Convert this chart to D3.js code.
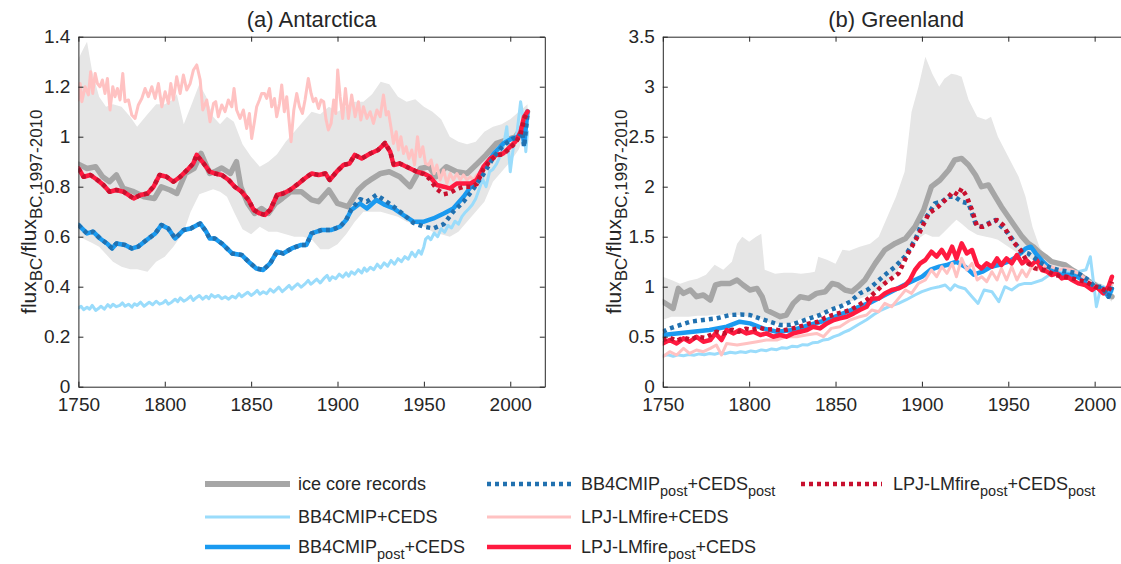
<!DOCTYPE html>
<html><head><meta charset="utf-8">
<script src="https://cdn.jsdelivr.net/npm/d3@7"></script>
<style>
body{margin:0;background:#fff;}
svg{display:block;font-family:"Liberation Sans",Arial,Helvetica,sans-serif;}
</style></head>
<body><svg id="c" width="1121" height="564"></svg>
<script>
// ---------------- DATA ----------------
const xTicks = [1750, 1800, 1850, 1900, 1950, 2000];
const yTicksA = [0, 0.2, 0.4, 0.6, 0.8, 1, 1.2, 1.4];
const yTicksB = [0, 0.5, 1, 1.5, 2, 2.5, 3, 3.5];
const titles = ["(a) Antarctica", "(b) Greenland"];

// Antarctica: ice core spread (shading)
const antBandYears = [1750,1752,1755,1758,1762,1766,1770,1775,1780,1784,1790,1795,1800,1805,1807,1811,1815,1820,1824,1828,1832,1836,1840,1845,1850,1855,1860,1865,1870,1875,1880,1885,1890,1895,1900,1905,1910,1915,1920,1925,1930,1935,1940,1945,1950,1955,1960,1965,1970,1975,1980,1985,1990,1995,2000,2005,2010];
const antBandHigh  = [1.31,1.34,1.38,1.26,1.16,1.12,1.13,1.12,1.08,1.04,1.09,1.13,1.13,1.15,1.17,1.05,1.12,1.21,1.16,1.08,1.05,1.08,1.06,0.97,0.92,0.88,0.90,0.93,0.98,1.02,1.06,1.10,1.09,1.12,1.10,1.12,1.14,1.14,1.17,1.22,1.21,1.16,1.14,1.15,1.12,1.10,1.07,1.00,0.98,0.97,0.98,1.02,1.04,1.05,1.07,1.10,1.13];
const antBandLow   = [0.60,0.595,0.585,0.575,0.56,0.53,0.50,0.48,0.47,0.47,0.46,0.50,0.52,0.56,0.58,0.62,0.70,0.77,0.78,0.79,0.78,0.76,0.70,0.63,0.61,0.64,0.62,0.62,0.61,0.60,0.60,0.59,0.55,0.55,0.57,0.61,0.66,0.70,0.70,0.70,0.69,0.68,0.66,0.65,0.64,0.62,0.61,0.60,0.62,0.66,0.70,0.74,0.82,0.86,0.90,0.95,1.05];

const antIce = [[1750,0.89],[1755,0.873],[1760,0.88],[1764,0.84],[1768,0.82],[1772,0.847],[1776,0.793],[1782,0.78],[1788,0.76],[1794,0.753],[1798,0.80],[1803,0.787],[1807,0.773],[1812,0.853],[1817,0.873],[1821,0.933],[1826,0.853],[1829,0.86],[1833,0.875],[1838,0.853],[1841.5,0.90],[1844,0.80],[1848,0.733],[1852,0.693],[1856,0.713],[1860,0.693],[1864,0.733],[1868,0.753],[1873,0.78],[1879,0.78],[1885,0.747],[1889,0.74],[1895,0.787],[1900,0.733],[1906,0.72],[1912,0.787],[1916,0.813],[1919,0.827],[1925,0.853],[1930,0.86],[1936,0.84],[1942,0.80],[1948,0.873],[1953,0.88],[1957,0.84],[1963,0.88],[1969,0.86],[1975,0.853],[1981,0.893],[1986,0.927],[1992,0.973],[1998,0.987],[2003,1.0],[2007,1.04],[2010,1.1]];

const antBB4 = [[1750,0.315],[1751.5,0.322],[1753,0.308],[1755,0.318],[1756.5,0.31],[1758,0.325],[1760,0.305],[1762,0.315],[1763,0.322],[1765,0.31],[1767,0.328],[1768.5,0.318],[1770,0.33],[1772,0.32],[1774,0.325],[1775.5,0.335],[1777,0.322],[1779,0.33],[1781,0.318],[1782.5,0.332],[1784,0.325],[1786,0.338],[1788,0.322],[1789.5,0.33],[1791,0.338],[1793,0.328],[1795,0.342],[1797,0.33],[1799,0.335],[1800.5,0.345],[1802,0.33],[1804,0.338],[1806,0.35],[1807.5,0.34],[1809,0.355],[1811,0.342],[1813,0.35],[1815,0.362],[1816.5,0.345],[1818,0.355],[1820,0.365],[1822,0.35],[1824,0.362],[1825.5,0.352],[1827,0.368],[1829,0.358],[1831,0.365],[1833,0.352],[1835,0.36],[1837,0.35],[1839,0.362],[1841,0.355],[1843,0.372],[1844.5,0.36],[1846,0.368],[1848,0.378],[1850,0.365],[1852,0.375],[1853.5,0.385],[1855,0.37],[1857,0.38],[1859,0.372],[1861,0.39],[1863,0.378],[1864.5,0.388],[1866,0.398],[1868,0.38],[1870,0.392],[1872,0.405],[1873.5,0.39],[1875,0.4],[1877,0.412],[1879,0.398],[1881,0.41],[1883,0.425],[1884.5,0.41],[1886,0.418],[1888,0.43],[1890,0.415],[1892,0.432],[1894,0.445],[1895.5,0.425],[1897,0.44],[1899,0.432],[1901,0.45],[1903,0.438],[1905,0.455],[1906.5,0.442],[1908,0.46],[1910,0.45],[1912,0.468],[1914,0.455],[1915.5,0.475],[1917,0.462],[1919,0.478],[1921,0.468],[1923,0.49],[1925,0.475],[1927,0.495],[1929,0.482],[1931,0.505],[1933,0.49],[1935,0.512],[1937,0.5],[1939,0.52],[1941,0.51],[1943,0.538],[1945,0.52],[1947,0.545],[1948.5,0.53],[1950,0.56],[1951,0.59],[1952.5,0.6],[1954,0.588],[1956,0.615],[1958,0.6],[1960,0.632],[1962,0.618],[1964,0.645],[1966,0.635],[1968,0.662],[1970,0.65],[1972,0.68],[1974,0.698],[1976,0.712],[1978,0.728],[1980,0.752],[1982,0.79],[1984,0.83],[1986,0.8],[1988,0.86],[1990,0.87],[1992,0.89],[1994,0.92],[1996,0.96],[1998,1.04],[2000,0.86],[2002,0.97],[2004,1.02],[2006,1.14],[2008,1.05],[2009,0.94],[2010,1.02]];

const antLPJ = [[1750,1.147],[1751,1.213],[1752,1.14],[1753.9,1.2],[1755.8,1.167],[1757.1,1.26],[1758.3,1.173],[1759.7,1.253],[1761,1.213],[1762.5,1.2],[1763.9,1.227],[1765.4,1.173],[1766.8,1.233],[1768.3,1.107],[1769.9,1.2],[1771.2,1.16],[1772.6,1.193],[1774.1,1.147],[1775.7,1.253],[1777,1.14],[1779,1.147],[1780.9,1.087],[1782.8,1.073],[1784.7,1.127],[1786.7,1.153],[1788.6,1.193],[1790.5,1.16],[1792.5,1.2],[1794.4,1.153],[1796.3,1.213],[1798.3,1.12],[1800.2,1.18],[1802.1,1.133],[1803.5,1.213],[1805,1.147],[1806.9,1.24],[1808.9,1.173],[1810.8,1.247],[1812.7,1.187],[1814.7,1.213],[1816.6,1.267],[1818.5,1.287],[1820.5,1.227],[1822,1.107],[1824.3,1.147],[1826.2,1.06],[1828.2,1.133],[1829.5,1.14],[1831,1.08],[1833,1.127],[1834.9,1.10],[1836.8,1.147],[1838.8,1.12],[1840.1,1.193],[1841.6,1.107],[1843.6,1.073],[1845.5,1.107],[1847.4,1.033],[1849,1.093],[1850.3,0.993],[1851.9,1.06],[1853.2,1.12],[1854.8,1.147],[1856.1,1.173],[1857.7,1.173],[1859,1.153],[1860.6,1.193],[1861.9,1.12],[1863.5,1.153],[1864.8,1.08],[1866.4,1.133],[1867.7,1.207],[1869.2,1.10],[1870.6,1.16],[1872,1.06],[1873.1,0.98],[1874.7,1.107],[1876.4,1.173],[1878,1.12],[1879.7,1.093],[1881.2,1.147],[1883.1,1.233],[1884.7,1.173],[1886,1.14],[1887.4,1.153],[1889,1.113],[1890.5,1.147],[1892,1.14],[1893.4,1.067],[1894.7,1.027],[1896.3,1.053],[1897.8,1.147],[1899,1.093],[1900.1,1.267],[1901.5,1.16],[1903,1.073],[1904.6,1.193],[1906.3,1.073],[1908.2,1.167],[1910.2,1.08],[1912.1,1.14],[1913.5,1.067],[1915,1.12],[1917,1.073],[1918.9,1.10],[1920.8,1.053],[1922.8,1.107],[1924.7,1.08],[1926.6,1.167],[1928.2,1.087],[1929.5,1.10],[1930.9,1.04],[1932.4,0.973],[1934,1.02],[1935.3,0.947],[1936.7,1.0],[1938.2,0.933],[1939.7,0.96],[1941.3,0.913],[1943,0.947],[1944.6,0.887],[1946.3,1.0],[1947.8,0.92],[1949.4,0.96],[1950.9,0.893],[1952.7,0.887],[1954.2,0.907],[1955.9,0.853],[1957.5,0.887],[1959.4,0.827],[1961.4,0.867],[1963.3,0.813],[1965.2,0.853],[1967.1,0.827],[1969.1,0.853],[1971,0.827],[1972.9,0.847],[1974.9,0.827],[1976.8,0.84],[1978.7,0.827],[1980.7,0.847],[1982.6,0.853],[1985,0.87],[1988,0.91],[1992,0.925],[1996,0.935],[2000,0.96],[2003,0.98],[2006,1.02],[2008,1.07],[2010,1.1]];

const antBB4post = [[1750,0.647],[1755,0.613],[1758.5,0.62],[1762.5,0.593],[1766.5,0.573],[1769.5,0.553],[1772,0.573],[1777,0.567],[1781,0.553],[1784.5,0.56],[1789.5,0.587],[1794.5,0.613],[1798,0.647],[1802,0.633],[1806,0.593],[1811,0.627],[1815,0.633],[1820.5,0.653],[1824,0.62],[1826,0.593],[1829,0.593],[1833,0.573],[1839,0.533],[1844.5,0.527],[1848.5,0.50],[1853,0.473],[1857,0.467],[1861,0.493],[1865,0.54],[1868.5,0.533],[1873.5,0.553],[1879,0.567],[1882,0.567],[1885,0.613],[1891,0.627],[1896.5,0.627],[1901.5,0.64],[1905,0.667],[1908,0.707],[1913,0.733],[1917,0.713],[1922.5,0.747],[1927.5,0.727],[1932.5,0.713],[1938,0.687],[1944,0.66],[1950,0.66],[1955.5,0.673],[1961.5,0.693],[1967,0.713],[1973,0.76],[1978.5,0.813],[1984.5,0.873],[1990.5,0.933],[1996,0.973],[2001,0.993],[2005,1.0],[2007,1.03],[2008,0.97],[2010,1.1]];

const antBB4postpost = [[1750,0.647],[1755,0.613],[1758.5,0.62],[1762.5,0.593],[1766.5,0.573],[1769.5,0.553],[1772,0.573],[1777,0.567],[1781,0.553],[1784.5,0.56],[1789.5,0.587],[1794.5,0.613],[1798,0.647],[1802,0.633],[1806,0.593],[1811,0.627],[1815,0.633],[1820.5,0.653],[1824,0.62],[1826,0.593],[1829,0.593],[1833,0.573],[1839,0.533],[1844.5,0.527],[1848.5,0.50],[1853,0.473],[1857,0.467],[1861,0.493],[1865,0.54],[1868.5,0.533],[1873.5,0.553],[1879,0.567],[1882,0.567],[1885,0.613],[1891,0.627],[1896.5,0.627],[1901.5,0.64],[1905,0.667],[1908,0.71],[1913,0.75],[1917,0.74],[1922.5,0.767],[1927.5,0.745],[1932.5,0.72],[1938,0.69],[1944,0.655],[1950,0.64],[1955.5,0.633],[1961.5,0.65],[1967,0.70],[1973,0.74],[1978.5,0.79],[1984.5,0.85],[1990.5,0.92],[1996,0.965],[2001,0.99],[2005,1.0],[2007,1.02],[2008,0.96],[2010,1.09]];

const antLPJpost = [[1750,0.873],[1753,0.84],[1757,0.847],[1761,0.827],[1764.5,0.807],[1768,0.78],[1772,0.787],[1776,0.78],[1782,0.753],[1786,0.767],[1790,0.773],[1793.5,0.80],[1797,0.847],[1801,0.84],[1805,0.82],[1809,0.84],[1813,0.867],[1816.5,0.893],[1818.5,0.927],[1822.5,0.893],[1826,0.86],[1829,0.853],[1833,0.847],[1837,0.827],[1840.5,0.80],[1844.5,0.78],[1848.5,0.747],[1851.5,0.707],[1855,0.693],[1858,0.687],[1861,0.707],[1865,0.767],[1868.5,0.773],[1872.5,0.787],[1877.5,0.813],[1881,0.833],[1885,0.853],[1889,0.847],[1893,0.853],[1895.5,0.827],[1899.5,0.86],[1903.5,0.887],[1907,0.893],[1910,0.927],[1914,0.913],[1919,0.933],[1923.5,0.947],[1927.5,0.973],[1930.5,0.94],[1932.5,0.887],[1936,0.893],[1942,0.873],[1946,0.86],[1950,0.853],[1953.5,0.84],[1957.5,0.807],[1961.5,0.80],[1965,0.793],[1969,0.813],[1973,0.813],[1977,0.813],[1980.5,0.827],[1984.5,0.88],[1988.5,0.913],[1992,0.927],[1996,0.933],[2000,0.96],[2003,0.98],[2006,1.02],[2008,1.08],[2010,1.10]];

const antLPJpostpost = [[1750,0.873],[1753,0.84],[1757,0.847],[1761,0.827],[1764.5,0.807],[1768,0.78],[1772,0.787],[1776,0.78],[1782,0.753],[1786,0.767],[1790,0.773],[1793.5,0.80],[1797,0.847],[1801,0.84],[1805,0.82],[1809,0.84],[1813,0.867],[1816.5,0.893],[1818.5,0.927],[1822.5,0.893],[1826,0.86],[1829,0.853],[1833,0.847],[1837,0.827],[1840.5,0.80],[1844.5,0.78],[1848.5,0.747],[1851.5,0.707],[1855,0.693],[1858,0.687],[1861,0.707],[1865,0.767],[1868.5,0.773],[1872.5,0.787],[1877.5,0.813],[1881,0.833],[1885,0.853],[1889,0.847],[1893,0.853],[1895.5,0.827],[1899.5,0.86],[1903.5,0.887],[1907,0.893],[1910,0.927],[1914,0.913],[1919,0.933],[1923.5,0.947],[1927.5,0.975],[1930.5,0.94],[1932.5,0.89],[1936,0.893],[1942,0.873],[1946,0.86],[1950,0.85],[1953.5,0.83],[1957.5,0.79],[1961.5,0.77],[1965,0.775],[1969,0.79],[1973,0.80],[1977,0.80],[1980.5,0.81],[1984.5,0.87],[1988.5,0.905],[1992,0.925],[1996,0.93],[2000,0.955],[2003,0.975],[2006,1.01],[2008,1.07],[2010,1.10]];

// Greenland
const grlBandYears = [1750,1755,1760,1765,1770,1775,1780,1785,1790,1793,1796,1800,1804,1807,1809,1812,1815,1820,1825,1830,1835,1838,1840,1845,1850,1854,1858,1864,1870,1875,1880,1885,1890,1894,1898,1902,1906,1910,1913,1917,1920,1923,1927,1932,1937,1940,1944,1950,1956,1960,1964,1968,1972,1977,1983,1990,1998,2005,2010];
const grlBandHigh  = [1.10,1.067,1.03,1.06,1.08,1.12,1.22,1.17,1.25,1.43,1.50,1.45,1.50,1.53,1.17,1.15,1.13,1.14,1.14,1.13,1.14,1.15,1.30,1.27,1.23,1.37,1.36,1.40,1.43,1.50,1.70,1.90,2.15,2.75,3.00,3.30,3.13,3.00,3.08,3.13,3.12,3.10,2.87,2.70,2.67,2.70,2.50,2.30,2.10,1.90,1.60,1.40,1.30,1.23,1.18,1.13,1.07,1.02,0.98];
const grlBandLow   = [0.67,0.70,0.70,0.70,0.71,0.71,0.72,0.72,0.72,0.72,0.71,0.70,0.69,0.68,0.66,0.64,0.63,0.63,0.64,0.68,0.70,0.71,0.72,0.76,0.80,0.82,0.85,0.88,0.92,0.97,1.03,1.13,1.30,1.40,1.48,1.53,1.50,1.50,1.55,1.62,1.67,1.63,1.57,1.52,1.50,1.49,1.47,1.40,1.33,1.30,1.27,1.23,1.21,1.20,1.17,1.12,1.04,0.92,0.85];

const grlIce = [[1750,0.85],[1753,0.817],[1756,0.783],[1759,0.983],[1762,0.933],[1766,0.967],[1769.5,0.90],[1773.5,0.917],[1777.5,0.867],[1780.5,1.017],[1784,1.033],[1789,1.033],[1793,1.067],[1796.5,1.017],[1800.5,0.967],[1804.5,0.983],[1807.5,0.90],[1810,0.767],[1814,0.733],[1818,0.70],[1821.5,0.717],[1825.5,0.833],[1829.5,0.90],[1834.5,0.883],[1839,0.933],[1844,0.95],[1848,1.033],[1851.5,1.017],[1855.5,0.967],[1859.5,0.95],[1863,1.0],[1867,1.067],[1873,1.233],[1878.5,1.367],[1884.5,1.433],[1890.5,1.483],[1896,1.60],[1901,1.767],[1905.5,2.0],[1910.5,2.067],[1915.5,2.167],[1919,2.267],[1923,2.283],[1927,2.217],[1931,2.117],[1934.5,2.0],[1938.5,2.017],[1942.5,1.90],[1946,1.80],[1950,1.70],[1954,1.60],[1958,1.50],[1961.5,1.433],[1964.5,1.40],[1967.5,1.35],[1971.5,1.30],[1975,1.25],[1979,1.233],[1983,1.217],[1987,1.167],[1990.5,1.133],[1995.5,1.067],[2000,1.02],[2005,0.95],[2010,0.9]];

const grlBB4 = [[1750,0.31],[1753,0.32],[1756,0.305],[1759,0.318],[1762,0.31],[1765,0.322],[1768,0.315],[1771,0.328],[1774,0.32],[1777,0.332],[1780,0.325],[1783,0.338],[1786,0.33],[1789,0.345],[1792,0.336],[1795,0.35],[1798,0.342],[1801,0.358],[1804,0.35],[1807,0.368],[1810,0.36],[1813,0.378],[1816,0.37],[1819,0.39],[1822,0.385],[1825,0.405],[1828,0.4],[1831,0.42],[1834,0.418],[1837,0.44],[1840,0.445],[1843,0.468],[1846,0.475],[1849,0.50],[1852,0.518],[1855,0.545],[1858,0.567],[1863,0.62],[1868,0.67],[1872,0.72],[1876.5,0.767],[1881,0.80],[1886.5,0.833],[1891,0.87],[1896,0.917],[1900,0.95],[1905.5,0.983],[1910,1.0],[1913.5,1.017],[1916.5,0.967],[1919,1.02],[1921,1.0],[1925,0.98],[1929,0.90],[1932.5,0.833],[1936,0.967],[1940.5,0.95],[1944.5,0.85],[1948,1.0],[1952,0.967],[1956,1.017],[1959.5,1.033],[1963.5,1.033],[1969.5,1.067],[1975,1.133],[1983,1.15],[1990.5,1.15],[1995,1.17],[1997.5,1.30],[2000,0.95],[2001,0.80],[2003,0.95],[2005,1.0],[2008,0.9],[2010,0.95]];

const grlLPJ = [[1750,0.30],[1754,0.35],[1758,0.317],[1762,0.383],[1765.5,0.333],[1769.5,0.367],[1773.5,0.35],[1777.5,0.383],[1781,0.417],[1784,0.317],[1787,0.433],[1793,0.417],[1798.5,0.433],[1804.5,0.45],[1810,0.467],[1816,0.467],[1821.5,0.50],[1827.5,0.50],[1833,0.517],[1839,0.533],[1843,0.50],[1847.5,0.583],[1852.5,0.60],[1858.5,0.667],[1864,0.70],[1868,0.717],[1871,0.767],[1875,0.75],[1878.5,0.833],[1882.5,0.80],[1886.5,0.883],[1890.5,0.967],[1894,0.933],[1898,1.033],[1902,1.067],[1905.5,1.167],[1908.5,1.10],[1911.5,1.20],[1914.5,1.133],[1917.5,1.233],[1920,1.10],[1923,1.283],[1926,1.167],[1929,1.233],[1932,1.067],[1934.5,1.10],[1937.5,1.05],[1940.5,1.15],[1943.5,1.067],[1946,1.183],[1949,1.067],[1952,1.20],[1955,1.067],[1958,1.167],[1960.5,1.10],[1963.5,1.20],[1966.5,1.167],[1969.5,1.233],[1972.5,1.183],[1975,1.20],[1979,1.167],[1983,1.183],[1987,1.167],[1990.5,1.133],[1994.5,1.083],[1998.5,1.033],[2002,0.98],[2006,0.95],[2010,1.02]];

const grlBB4post = [[1750,0.517],[1758,0.533],[1767.5,0.55],[1777,0.567],[1787,0.60],[1794.5,0.65],[1800.5,0.633],[1808,0.583],[1816,0.55],[1825.5,0.567],[1835,0.617],[1845,0.667],[1854.5,0.733],[1864,0.80],[1870,0.84],[1880,0.93],[1890,1.02],[1900,1.10],[1905,1.17],[1910,1.20],[1915,1.22],[1920,1.25],[1925,1.20],[1930,1.12],[1935,1.15],[1940,1.20],[1945,1.22],[1950,1.25],[1955,1.30],[1960,1.38],[1963,1.40],[1966,1.33],[1970,1.25],[1975,1.17],[1980,1.12],[1985,1.12],[1990,1.10],[1995,1.05],[2000,1.0],[2005,0.98],[2008,0.9],[2010,0.98]];

const grlBB4postpost = [[1750,0.55],[1754,0.583],[1760,0.617],[1766,0.65],[1773.5,0.667],[1781,0.683],[1789,0.717],[1795,0.723],[1800.5,0.717],[1806,0.683],[1812,0.65],[1818,0.617],[1824,0.617],[1829.5,0.65],[1835,0.683],[1841,0.717],[1847,0.767],[1852.5,0.80],[1858.5,0.85],[1864,0.933],[1869,0.975],[1873,1.033],[1878.5,1.117],[1884.5,1.20],[1890,1.30],[1896,1.467],[1900,1.633],[1904,1.733],[1907.5,1.833],[1911.5,1.85],[1915.5,1.90],[1919,1.90],[1923,1.85],[1927,1.833],[1931,1.633],[1934.5,1.60],[1938.5,1.633],[1942.5,1.667],[1946,1.60],[1950,1.533],[1954,1.433],[1958,1.35],[1961.5,1.333],[1965.5,1.283],[1969.5,1.233],[1973,1.20],[1979,1.167],[1985,1.15],[1990.5,1.133],[1996.5,1.067],[2000,1.0],[2004,1.0],[2008,0.9],[2010,1.0]];

const grlLPJpost = [[1750,0.433],[1754,0.467],[1758,0.433],[1762,0.483],[1765.5,0.45],[1769.5,0.50],[1773.5,0.45],[1777.5,0.467],[1780.5,0.533],[1784,0.467],[1787,0.567],[1791,0.533],[1794.5,0.567],[1798.5,0.533],[1802.5,0.55],[1806.5,0.517],[1810,0.533],[1814,0.50],[1818,0.517],[1821.5,0.50],[1825.5,0.533],[1829.5,0.55],[1833.5,0.567],[1837,0.60],[1841,0.583],[1845,0.633],[1849,0.667],[1852.5,0.683],[1856.5,0.70],[1860.5,0.733],[1864,0.767],[1868,0.80],[1871,0.883],[1875,0.883],[1878.5,0.933],[1882.5,0.967],[1886.5,0.983],[1890.5,1.017],[1893,1.067],[1896,1.167],[1899,1.233],[1902,1.267],[1905.5,1.35],[1908.5,1.30],[1911.5,1.367],[1914.5,1.283],[1917.5,1.40],[1920,1.283],[1923,1.433],[1926,1.333],[1929,1.367],[1932,1.217],[1934.5,1.183],[1937.5,1.233],[1940.5,1.20],[1943.5,1.283],[1946,1.217],[1949,1.283],[1952,1.233],[1955,1.317],[1958,1.233],[1960.5,1.267],[1963.5,1.217],[1966.5,1.267],[1969.5,1.167],[1972.5,1.15],[1975,1.117],[1978,1.133],[1981,1.083],[1984,1.10],[1987,1.067],[1990.5,1.033],[1994.5,1.017],[1998.5,0.967],[2001,1.0],[2005,0.933],[2008,1.0],[2010,1.10]];

const grlLPJpostpost = [[1750,0.467],[1754,0.49],[1758,0.46],[1762,0.49],[1766,0.47],[1770,0.50],[1774,0.49],[1778,0.52],[1781,0.55],[1785,0.53],[1790,0.57],[1794,0.55],[1798,0.58],[1802,0.57],[1806,0.59],[1810,0.57],[1814,0.575],[1819,0.56],[1823,0.575],[1827,0.59],[1831,0.61],[1835,0.633],[1840,0.65],[1844,0.69],[1848.5,0.717],[1853,0.74],[1858.5,0.767],[1863,0.81],[1868,0.867],[1878.5,1.033],[1886.5,1.133],[1892,1.333],[1898,1.517],[1904,1.733],[1909.5,1.80],[1915.5,1.90],[1918,1.95],[1921,1.917],[1923,1.983],[1926,1.90],[1929,1.767],[1932,1.60],[1935.5,1.60],[1939.5,1.633],[1943.5,1.667],[1947,1.617],[1952,1.467],[1957,1.367],[1961.5,1.233],[1965.5,1.183],[1971.5,1.167],[1977,1.117],[1983,1.10],[1990.5,1.067],[1995,1.05],[2000,1.0],[2004,0.98],[2008,0.95],[2010,1.05]];

// ---------------- STYLE / LAYOUT ----------------
const seriesStyle = {
  ice:      {color:"#a6a6a6", width:5.5, dash:null},
  bb4:      {color:"#9adcfb", width:3,   dash:null},
  lpj:      {color:"#ffc2c2", width:3,   dash:null},
  bb4post:  {color:"#1a9af0", width:4.5, dash:null},
  lpjpost:  {color:"#ff1a40", width:4.5, dash:null},
  bb4pp:    {color:"#2171b0", width:4.5, dash:"4,4"},
  lpjpp:    {color:"#c8102e", width:4.5, dash:"4,4"}
};
const textColor = "#262626";
const svg = d3.select("#c");

const panels = [
  {left:78.4, right:544.8, top:36.7, bottom:386.7, yMax:1.4, yTicks:yTicksA, title:titles[0],
   band:[antBandYears, antBandLow, antBandHigh],
   lines:[["ice",antIce],["bb4",antBB4],["bb4post",antBB4post],["lpj",antLPJ],["lpjpost",antLPJpost],["bb4pp",antBB4postpost],["lpjpp",antLPJpostpost]]},
  {left:662.8, right:1129.2, top:36.7, bottom:386.7, yMax:3.5, yTicks:yTicksB, title:titles[1],
   band:[grlBandYears, grlBandLow, grlBandHigh],
   lines:[["ice",grlIce],["bb4",grlBB4],["bb4post",grlBB4post],["lpj",grlLPJ],["lpjpost",grlLPJpost],["bb4pp",grlBB4postpost],["lpjpp",grlLPJpostpost]]}
];

panels.forEach((p, i) => {
  const x = d3.scaleLinear().domain([1750, 2020]).range([p.left, p.right]);
  const y = d3.scaleLinear().domain([0, p.yMax]).range([p.bottom, p.top]);
  const g = svg.append("g");
  const clipId = "clip" + i;
  svg.append("clipPath").attr("id", clipId).append("rect")
    .attr("x", p.left).attr("y", p.top).attr("width", p.right - p.left).attr("height", p.bottom - p.top);
  const plot = g.append("g").attr("clip-path", `url(#${clipId})`);

  const [by, bl, bh] = p.band;
  const bandData = by.map((yr, k) => [yr, bl[k], bh[k]]);
  plot.append("path").datum(bandData)
    .attr("fill", "#e6e6e6").attr("stroke", "none")
    .attr("d", d3.area().x(d => x(d[0])).y0(d => y(d[1])).y1(d => y(d[2])));

  const line = d3.line().x(d => x(d[0])).y(d => y(d[1]));
  p.lines.forEach(([key, data]) => {
    const s = seriesStyle[key];
    const path = plot.append("path").datum(data)
      .attr("fill", "none").attr("stroke", s.color).attr("stroke-width", s.width)
      .attr("stroke-linejoin", "round").attr("d", line);
    if (s.dash) path.attr("stroke-dasharray", s.dash).attr("stroke-linecap", "butt");
    else path.attr("stroke-linecap", "round");
  });

  const styleAxis = sel => {
    sel.selectAll("path.domain").attr("stroke", "#262626").attr("stroke-width", 1);
    sel.selectAll(".tick line").attr("stroke", "#262626").attr("stroke-width", 1);
    sel.selectAll(".tick text").attr("fill", textColor).attr("font-size", 19)
      .attr("font-family", '"Liberation Sans", Arial, sans-serif');
  };
  g.append("g").attr("transform", `translate(0,${p.bottom})`)
    .call(d3.axisBottom(x).tickValues(xTicks).tickSizeInner(-5).tickSizeOuter(0).tickPadding(11).tickFormat(d3.format("d")))
    .call(styleAxis);
  g.append("g").attr("transform", `translate(0,${p.top})`)
    .call(d3.axisTop(x).tickValues(xTicks).tickSizeInner(-5).tickSizeOuter(0).tickFormat(""))
    .call(styleAxis);
  g.append("g").attr("transform", `translate(${p.left},0)`)
    .call(d3.axisLeft(y).tickValues(p.yTicks).tickSizeInner(-5).tickSizeOuter(0).tickPadding(8).tickFormat(d => String(d)))
    .call(styleAxis);
  g.append("g").attr("transform", `translate(${p.right},0)`)
    .call(d3.axisRight(y).tickValues(p.yTicks).tickSizeInner(-5).tickSizeOuter(0).tickFormat(""))
    .call(styleAxis);
  g.selectAll(".domain").attr("fill", "none");

  g.append("text").attr("x", (p.left + p.right) / 2).attr("y", 27)
    .attr("text-anchor", "middle").attr("font-size", 22).attr("fill", textColor).text(p.title);

  const yl = g.append("text")
    .attr("transform", `translate(${p.left - 42},${(p.top + p.bottom) / 2}) rotate(-90)`)
    .attr("text-anchor", "middle").attr("font-size", 21).attr("fill", textColor);
  yl.append("tspan").text("flux");
  yl.append("tspan").attr("font-size", 17).attr("dy", 6).text("BC");
  yl.append("tspan").attr("dy", -6).text("/flux");
  yl.append("tspan").attr("font-size", 17).attr("dy", 6).text("BC,1997-2010");
});

// ---------------- LEGEND ----------------
const legendItems = [
  {key:"ice",     parts:[["ice core records",0]],                           col:0, row:0},
  {key:"bb4pp",   parts:[["BB4CMIP",0],["post",1],["+CEDS",0],["post",1]],    col:1, row:0},
  {key:"lpjpp",   parts:[["LPJ-LMfire",0],["post",1],["+CEDS",0],["post",1]], col:2, row:0},
  {key:"bb4",     parts:[["BB4CMIP+CEDS",0]],                               col:0, row:1},
  {key:"lpj",     parts:[["LPJ-LMfire+CEDS",0]],                            col:1, row:1},
  {key:"bb4post", parts:[["BB4CMIP",0],["post",1],["+CEDS",0]],             col:0, row:2},
  {key:"lpjpost", parts:[["LPJ-LMfire",0],["post",1],["+CEDS",0]],          col:1, row:2}
];
const colX = [[205, 290, 298], [487, 571, 581], [801, 882, 893]];
const rowY = [484, 517, 547];
const lg = svg.append("g");
legendItems.forEach(it => {
  const s = seriesStyle[it.key];
  const [x1, x2, tx] = colX[it.col];
  const yy = rowY[it.row];
  const ln = lg.append("line").attr("x1", x1).attr("x2", x2).attr("y1", yy).attr("y2", yy)
    .attr("stroke", s.color).attr("stroke-width", it.key === "ice" ? 6 : s.width);
  if (s.dash) ln.attr("stroke-dasharray", s.dash);
  const t = lg.append("text").attr("x", tx).attr("y", yy + 6).attr("font-size", 18).attr("fill", textColor);
  let down = false;
  it.parts.forEach(([str, sub]) => {
    const ts = t.append("tspan").text(str);
    if (sub && !down) { ts.attr("dy", 6).attr("font-size", 14.5); down = true; }
    else if (sub) { ts.attr("font-size", 14.5); }
    else if (!sub && down) { ts.attr("dy", -6); down = false; }
  });
});
</script></body></html>
